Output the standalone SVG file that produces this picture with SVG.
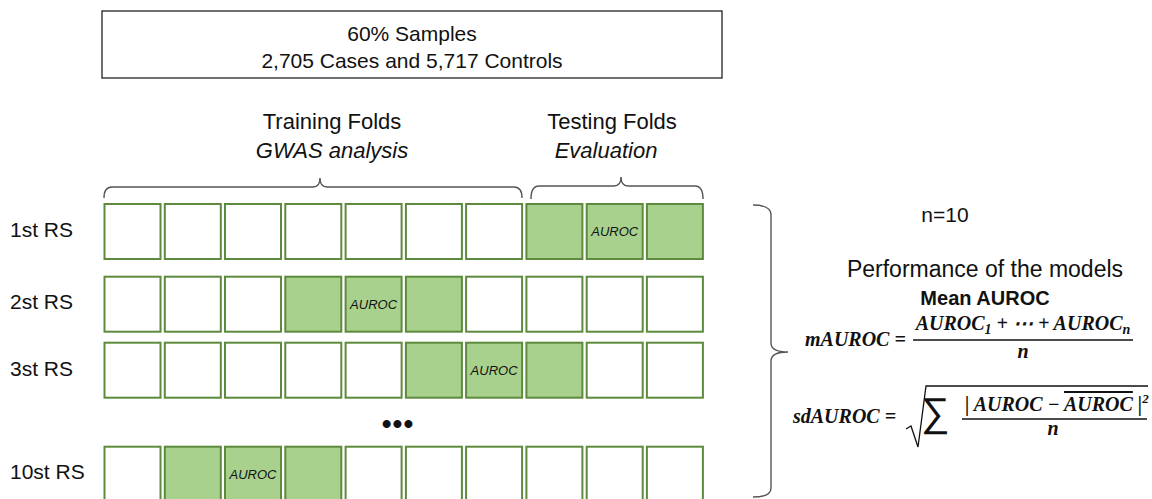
<svg xmlns="http://www.w3.org/2000/svg" width="1152" height="499" viewBox="0 0 1152 499">
  <defs>
    <style>
      text { font-family: "Liberation Sans", Arial, sans-serif; fill: #111; }
      .lbl { font-size: 21px; }
      .mid { text-anchor: middle; }
      .it { font-style: italic; }
      .cell { stroke: #5d8a3c; stroke-width: 2; fill: #ffffff; }
      .on { fill: #a9d18e; }
      .auroc { font-size: 13px; font-style: italic; text-anchor: middle; }
      .brace { fill: none; stroke: #555; stroke-width: 1.4; }
      .math { font-family: "Liberation Serif", "Times New Roman", serif; font-weight: bold; font-style: italic; font-size: 20px; }
      .rule { stroke: #111; stroke-width: 1.3; fill: none; }
    </style>
    <!-- one fold cell, 56 x 55 -->
    <rect id="fold" width="56" height="55"/>
  </defs>

  <rect width="1152" height="499" fill="#ffffff"/>

  <!-- sample header -->
  <g id="samples">
    <rect x="102" y="11" width="620" height="67" fill="#fff" stroke="#222" stroke-width="1.3"/>
    <text class="lbl mid" x="412" y="41">60% Samples</text>
    <text class="lbl mid" x="412" y="68">2,705 Cases and 5,717 Controls</text>
  </g>

  <!-- fold headers -->
  <g id="training-header">
    <text class="mid" x="332" y="129" font-size="22">Training Folds</text>
    <text class="mid it" x="332" y="158" font-size="22">GWAS analysis</text>
  </g>
  <g id="testing-header">
    <text class="mid" x="612" y="129" font-size="22">Testing Folds</text>
    <text class="mid it" x="606" y="158" font-size="22">Evaluation</text>
  </g>

  <!-- braces -->
  <g id="connectors">
    <path class="brace" d="M104,198 Q104,187 112,187 L313,187 Q320,187 320,178 Q320,187 327,187 L514,187 Q522,187 522,198"/>
    <path class="brace" d="M531,199 Q531,186 539,186 L614,186 Q621,186 621,177 Q621,186 628,186 L695,186 Q703,186 703,199"/>
    <path class="brace" d="M753,205 Q771,205 771,215 L771,343 Q771,352 788,352 Q771,352 771,361 L771,488 Q771,497 753,497"/>
  </g>

  <!-- resampling rows -->
  <g id="rs1">
    <text class="lbl" x="10" y="237">1st RS</text>
    <use href="#fold" class="cell" x="104.5" y="204"/>
    <use href="#fold" class="cell" x="164.8" y="204"/>
    <use href="#fold" class="cell" x="225" y="204"/>
    <use href="#fold" class="cell" x="285.3" y="204"/>
    <use href="#fold" class="cell" x="345.6" y="204"/>
    <use href="#fold" class="cell" x="405.9" y="204"/>
    <use href="#fold" class="cell" x="466.1" y="204"/>
    <use href="#fold" class="cell on" x="526.4" y="204"/>
    <use href="#fold" class="cell on" x="586.7" y="204"/>
    <use href="#fold" class="cell on" x="646.9" y="204"/>
    <text class="auroc" x="614.7" y="236">AUROC</text>
  </g>

  <g id="rs2">
    <text class="lbl" x="10" y="309">2st RS</text>
    <use href="#fold" class="cell" x="104.5" y="276.7"/>
    <use href="#fold" class="cell" x="164.8" y="276.7"/>
    <use href="#fold" class="cell" x="225" y="276.7"/>
    <use href="#fold" class="cell on" x="285.3" y="276.7"/>
    <use href="#fold" class="cell on" x="345.6" y="276.7"/>
    <use href="#fold" class="cell on" x="405.9" y="276.7"/>
    <use href="#fold" class="cell" x="466.1" y="276.7"/>
    <use href="#fold" class="cell" x="526.4" y="276.7"/>
    <use href="#fold" class="cell" x="586.7" y="276.7"/>
    <use href="#fold" class="cell" x="646.9" y="276.7"/>
    <text class="auroc" x="373.6" y="309">AUROC</text>
  </g>

  <g id="rs3">
    <text class="lbl" x="10" y="376">3st RS</text>
    <use href="#fold" class="cell" x="104.5" y="342.7"/>
    <use href="#fold" class="cell" x="164.8" y="342.7"/>
    <use href="#fold" class="cell" x="225" y="342.7"/>
    <use href="#fold" class="cell" x="285.3" y="342.7"/>
    <use href="#fold" class="cell" x="345.6" y="342.7"/>
    <use href="#fold" class="cell on" x="405.9" y="342.7"/>
    <use href="#fold" class="cell on" x="466.1" y="342.7"/>
    <use href="#fold" class="cell on" x="526.4" y="342.7"/>
    <use href="#fold" class="cell" x="586.7" y="342.7"/>
    <use href="#fold" class="cell" x="646.9" y="342.7"/>
    <text class="auroc" x="494.1" y="375">AUROC</text>
  </g>

  <g id="ellipsis">
    <text x="398" y="433" font-size="28" font-weight="bold" text-anchor="middle" letter-spacing="1">•••</text>
  </g>

  <g id="rs10">
    <text class="lbl" x="10" y="479">10st RS</text>
    <use href="#fold" class="cell" x="104.5" y="446.7"/>
    <use href="#fold" class="cell on" x="164.8" y="446.7"/>
    <use href="#fold" class="cell on" x="225" y="446.7"/>
    <use href="#fold" class="cell on" x="285.3" y="446.7"/>
    <use href="#fold" class="cell" x="345.6" y="446.7"/>
    <use href="#fold" class="cell" x="405.9" y="446.7"/>
    <use href="#fold" class="cell" x="466.1" y="446.7"/>
    <use href="#fold" class="cell" x="526.4" y="446.7"/>
    <use href="#fold" class="cell" x="586.7" y="446.7"/>
    <use href="#fold" class="cell" x="646.9" y="446.7"/>
    <text class="auroc" x="253" y="479">AUROC</text>
  </g>

  <!-- summary of the model performance -->
  <g id="summary">
    <text class="lbl mid" x="945" y="222">n=10</text>
    <text class="mid" x="985" y="277" font-size="23">Performance of the models</text>
    <text class="mid" x="985" y="305" font-size="20" font-weight="bold">Mean AUROC</text>
  </g>

  <g id="mean-formula">
    <text class="math" x="805" y="346" font-size="21">mAUROC =</text>
    <text class="math" x="1023" y="330" text-anchor="middle">AUROC<tspan font-size="14" dy="4">1</tspan><tspan dy="-4"> + ⋯ + AUROC</tspan><tspan font-size="14" dy="4">n</tspan></text>
    <line class="rule" x1="913" y1="340" x2="1133" y2="340"/>
    <text class="math" x="1023" y="358" text-anchor="middle">n</text>
  </g>

  <g id="sd-formula">
    <text class="math" x="793" y="423" font-size="21">sdAUROC =</text>
    <path class="rule" d="M906,429 L911,426 L918,447 L926,386 L1148,386"/>
    <text x="921" y="426" font-family="Liberation Serif, serif" font-size="40">∑</text>
    <text class="math" x="965" y="411">| AUROC − <tspan text-decoration="overline">AUROC</tspan> |<tspan font-size="13" dy="-8">2</tspan></text>
    <line class="rule" x1="962" y1="419" x2="1147" y2="419"/>
    <text class="math" x="1053" y="435" text-anchor="middle">n</text>
  </g>
</svg>
